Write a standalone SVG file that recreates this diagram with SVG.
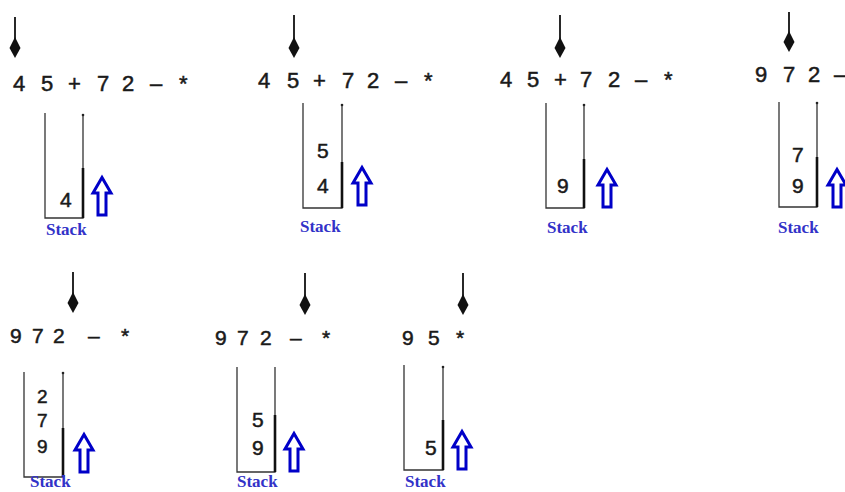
<svg xmlns="http://www.w3.org/2000/svg" xmlns:xlink="http://www.w3.org/1999/xlink" width="845" height="492" viewBox="0 0 845 492">
<style>
.expr{font-family:"Liberation Sans",Arial,sans-serif;font-size:22px;fill:#1a1a1a;stroke:#1a1a1a;stroke-width:0.5}
.expr2{font-family:"Liberation Sans",Arial,sans-serif;font-size:21px;fill:#1a1a1a;stroke:#1a1a1a;stroke-width:0.5}
.val{font-family:"Liberation Sans",Arial,sans-serif;font-size:21px;fill:#1a1a1a;stroke:#1a1a1a;stroke-width:0.5}
.lbl{font-family:"Liberation Serif","Times New Roman",serif;font-size:17px;font-weight:bold;fill:#3232c8}
.wall{fill:none;stroke:#333;stroke-width:1.3}
.thick{stroke:#111;stroke-width:2.6}
.ptr{stroke:#111;stroke-width:1.8}
.up{fill:#fff;stroke:#0000c8;stroke-width:3;stroke-linejoin:miter}
</style>
<defs>
<path id="kite" d="M0,-21 L-5.5,-10 L0,0 L5.5,-10 Z" fill="#111"/>
<path id="up" class="up" d="M10,1.5 L19,17 L14,17 L14,39 L6,39 L6,17 L1,17 Z"/>
</defs>
<rect width="845" height="492" fill="#fff"/>
<g id="panel1">
<line class="ptr" x1="15" y1="17" x2="15" y2="42"/><use xlink:href="#kite" x="15" y="58"/>
<text class="expr" x="13 41 68 97 122 150 179" y="91">45+72–*</text>
<path class="wall" d="M45,113 V218 H83 V115"/><line class="thick" x1="83" y1="168" x2="83" y2="218"/><circle cx="83" cy="115" r="1.3" fill="#222"/>
<text class="val" x="60" y="207">4</text>
<use xlink:href="#up" x="92" y="176"/>
<text class="lbl" x="46" y="235">Stack</text>
</g>
<g id="panel2">
<line class="ptr" x1="294" y1="15" x2="294" y2="42"/><use xlink:href="#kite" x="294" y="58"/>
<text class="expr" x="258 287 313 342 367 395 424" y="88">45+72–*</text>
<path class="wall" d="M303,103 V208 H342 V105"/><line class="thick" x1="342" y1="162" x2="342" y2="208"/><circle cx="342" cy="105" r="1.3" fill="#222"/>
<text class="val" x="317" y="158">5</text>
<text class="val" x="317" y="193">4</text>
<use xlink:href="#up" x="352" y="166"/>
<text class="lbl" x="300" y="232">Stack</text>
</g>
<g id="panel3">
<line class="ptr" x1="560" y1="15" x2="560" y2="42"/><use xlink:href="#kite" x="560" y="58"/>
<text class="expr" x="500 527 554 580 608 635 664" y="87">45+72–*</text>
<path class="wall" d="M546,103 V208 H584 V105"/><line class="thick" x1="584" y1="159" x2="584" y2="208"/><circle cx="584" cy="105" r="1.3" fill="#222"/>
<text class="val" x="557" y="193">9</text>
<use xlink:href="#up" x="597" y="168"/>
<text class="lbl" x="547" y="233">Stack</text>
</g>
<g id="panel4">
<line class="ptr" x1="789" y1="12" x2="789" y2="36"/><use xlink:href="#kite" x="789" y="52"/>
<text class="expr" x="755 783 808 834" y="82">972–</text>
<path class="wall" d="M779,102 V207 H817 V103"/><line class="thick" x1="817" y1="157" x2="817" y2="207"/><circle cx="817" cy="103" r="1.3" fill="#222"/>
<text class="val" x="792" y="162">7</text>
<text class="val" x="792" y="193">9</text>
<use xlink:href="#up" x="827" y="168"/>
<text class="lbl" x="778" y="233">Stack</text>
</g>
<g id="panel5">
<line class="ptr" x1="73" y1="272" x2="73" y2="297"/><use xlink:href="#kite" x="73" y="313"/>
<text class="expr2" x="10 32 53 88 121" y="343">972–*</text>
<path class="wall" d="M24,372 V477 H63 V373"/><line class="thick" x1="63" y1="428" x2="63" y2="477"/><circle cx="63" cy="373" r="1.3" fill="#222"/>
<text class="val" x="37" y="403" style="font-size:19px">2</text>
<text class="val" x="37" y="427" style="font-size:19px">7</text>
<text class="val" x="37" y="453" style="font-size:19px">9</text>
<use xlink:href="#up" x="74" y="433"/>
<text class="lbl" x="30" y="487">Stack</text>
</g>
<g id="panel6">
<line class="ptr" x1="305" y1="273" x2="305" y2="299"/><use xlink:href="#kite" x="305" y="315"/>
<text class="expr2" x="215 237 260 290 322" y="345">972–*</text>
<path class="wall" d="M237,367 V472 H275 V367"/><line class="thick" x1="275" y1="415" x2="275" y2="472"/>
<text class="val" x="252" y="427">5</text>
<text class="val" x="252" y="455">9</text>
<use xlink:href="#up" x="284" y="432"/>
<text class="lbl" x="237" y="487">Stack</text>
</g>
<g id="panel7">
<line class="ptr" x1="463" y1="273" x2="463" y2="299"/><use xlink:href="#kite" x="463" y="315"/>
<text class="expr2" x="402 428 456" y="345">95*</text>
<path class="wall" d="M404,365 V470 H443 V367"/><line class="thick" x1="443" y1="420" x2="443" y2="470"/><circle cx="443" cy="367" r="1.3" fill="#222"/>
<text class="val" x="425" y="455">5</text>
<use xlink:href="#up" x="452" y="430"/>
<text class="lbl" x="405" y="487">Stack</text>
</g>
<g id="connectors"/>
</svg>
